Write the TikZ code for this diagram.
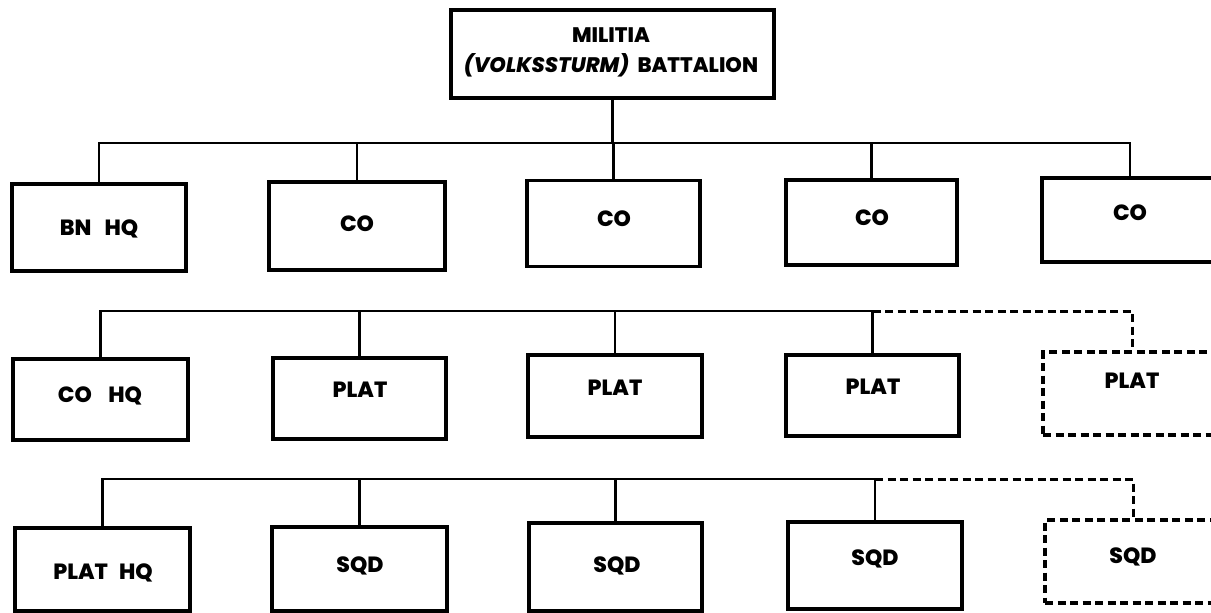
\documentclass[tikz,border=0pt]{standalone}
\usepackage{fontspec}
\setmainfont{Poppins}[BoldFont={Poppins ExtraBold},BoldItalicFont={Poppins ExtraBold Italic}]
\begin{document}
\begin{tikzpicture}[x=1pt,y=-1pt,
  bx/.style={draw=black, line width=3.2pt, inner sep=0pt, minimum width=#1},
  bx/.default=174pt,
  dbx/.style={bx=#1, dash pattern=on 8pt off 4.5pt},
  dbx/.default=176pt,
  lab/.style={font=\bfseries\fontsize{22}{22}\selectfont, inner sep=0pt},
  conn/.style={draw=black, line width=2.4pt},
  dconn/.style={draw=black, line width=3pt, dash pattern=on 8pt off 4.5pt}]
\useasboundingbox (0,0) rectangle (1211,613);
\fill[white] (0,0) rectangle (1211,613);
\clip (0,0) rectangle (1211,613);

% top
\node[bx=323pt, minimum height=88pt] (top) at (612.5,54) {};
\node[lab, font=\bfseries\fontsize{21}{21}\selectfont, align=center] (topt) at (611,52) {MILITIA\\[9pt]\textit{(VOLKSSTURM)}\hspace{0.4em}BATTALION};

% row 1
\node[bx=174pt, minimum height=87pt] (bn) at (99,227.5) {};
\node[bx=176pt, minimum height=88pt] (co1) at (357,226) {};
\node[bx=173pt, minimum height=86pt] (co2) at (613.5,223.5) {};
\node[bx=171pt, minimum height=85pt] (co3) at (871.5,222.5) {};
\node[bx=176pt, minimum height=84pt] (co4) at (1130,220) {};
\node[lab] (bnt) at (99,229) {BN\hspace{0.6em}HQ};
\node[lab] (co1t) at (357,224) {CO};
\node[lab] (co2t) at (614,219) {CO};
\node[lab] (co3t) at (872,218) {CO};
\node[lab] (co4t) at (1130,213) {CO};

\coordinate (b1) at (613,143);
\draw[conn] (bn.north) -- (bn.north |- b1) -- (co4.north |- b1) -- (co4.north);
\draw[conn] (co1.north) -- (co1.north |- b1);
\draw[conn] (co2.north) -- (co2.north |- b1);
\draw[conn] (co3.north) -- (co3.north |- b1);
\draw[conn] (top.south) -- (top.south |- b1);

% row 2
\node[bx=175pt, minimum height=81pt] (cohq) at (100.5,399.5) {};
\node[bx=173pt, minimum height=81pt] (p1) at (359.5,398.5) {};
\node[bx=174pt, minimum height=82pt] (p2) at (615,396) {};
\node[bx=173pt, minimum height=81pt] (p3) at (872.5,395.5) {};
\node[dbx=178pt, minimum height=83pt] (p4) at (1132,393.5) {};
\node[lab] (cohqt) at (100,396) {CO\hspace{0.75em}HQ};
\node[lab] (p1t) at (360,390) {PLAT};
\node[lab] (p2t) at (615,388) {PLAT};
\node[lab] (p3t) at (873,387) {PLAT};
\node[lab] (p4t) at (1132,381) {PLAT};

\coordinate (b2) at (600,311);
\draw[conn] (cohq.north) -- (cohq.north |- b2) -- (p3.north |- b2) -- (p3.north);
\draw[conn] (p1.north) -- (p1.north |- b2);
\draw[conn] (p2.north) -- (p2.north |- b2);
\draw[dconn] (p3.north |- b2) -- (p4.north |- b2) -- (p4.north);

% row 3
\node[bx=175pt, minimum height=83pt] (phq) at (102.5,569.5) {};
\node[bx=175pt, minimum height=84pt] (s1) at (359.5,569) {};
\node[bx=173pt, minimum height=88pt] (s2) at (615.5,567) {};
\node[bx=174pt, minimum height=87pt] (s3) at (875,565.5) {};
\node[dbx=176pt, minimum height=83pt] (s4) at (1133,561.5) {};
\node[lab] (phqt) at (103,573) {PLAT\hspace{0.5em}HQ};
\node[lab] (s1t) at (360,566) {SQD};
\node[lab] (s2t) at (617,566) {SQD};
\node[lab] (s3t) at (875,559) {SQD};
\node[lab] (s4t) at (1133,557) {SQD};

\coordinate (b3) at (600,479);
\draw[conn] (phq.north) -- (phq.north |- b3) -- (s3.north |- b3) -- (s3.north);
\draw[conn] (s1.north) -- (s1.north |- b3);
\draw[conn] (s2.north) -- (s2.north |- b3);
\draw[dconn] (s3.north |- b3) -- (s4.north |- b3) -- (s4.north);
\end{tikzpicture}
\end{document}
